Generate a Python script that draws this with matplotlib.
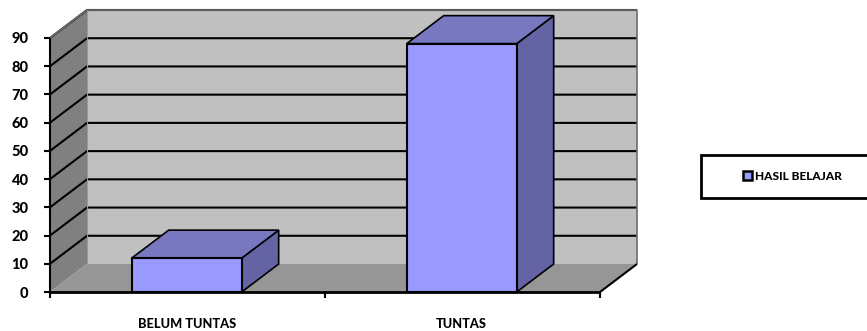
import matplotlib
matplotlib.use('Agg')
import matplotlib.pyplot as plt
from matplotlib.patches import Polygon, Patch, Rectangle

categories = ['BELUM TUNTAS', 'TUNTAS']
values = [12, 88]
series_name = 'HASIL BELAJAR'
yticks = [0, 10, 20, 30, 40, 50, 60, 70, 80, 90]

W, H = 867, 331
plt.rcParams['font.family'] = ['Lato', 'DejaVu Sans']
plt.rcParams['font.weight'] = 900

fig = plt.figure(figsize=(W / 100, H / 100), dpi=100)
ax = fig.add_axes([50 / W, 1 - 292 / H, 550 / W, 254 / H])
ax.set_xlim(0, 2)
ax.set_ylim(0, 90)

# oblique depth offset, in data units
dx = 37 / 275
dy = 28 / (254 / 90)
top = yticks[-1]
n = len(categories)


def poly(pts, fc, ec='none', lw=0, z=1):
    ax.add_patch(Polygon(pts, closed=True, facecolor=fc, edgecolor=ec,
                         linewidth=lw, zorder=z, clip_on=False, joinstyle='miter'))


def line(xs, ys, color='black', lw=1.5, z=2):
    ax.plot(xs, ys, color=color, lw=lw, zorder=z, clip_on=False, solid_capstyle='butt')


# walls and floor
poly([(dx, dy), (n + dx, dy), (n + dx, top + dy), (dx, top + dy)], '#c0c0c0')
poly([(0, 0), (dx, dy), (dx, top + dy), (0, top)], '#808080')
poly([(0, 0), (n, 0), (n + dx, dy), (dx, dy)], '#969696')

# gridlines run along the side wall and across the back wall
for v in yticks[1:]:
    line([0, dx, n + dx], [v, v + dy, v + dy], lw=1.5)
line([0, dx, n + dx, n + dx], [top, top + dy, top + dy, dy], color='#6e6e6e', lw=1.2)
line([dx, dx], [dy, top + dy], color='#9a9a9a', lw=0.8)
line([n, n + dx], [0, dy], lw=1.5)
line([0, n], [0, 0], lw=2, z=6)
line([0, 0], [0, top], lw=1.5, z=6)

# 3d bars
bar_w = 110 / 275
for i, v in enumerate(values):
    x0 = i + 0.5 - bar_w / 2 - 0.003
    x1 = x0 + bar_w
    poly([(x1, 0), (x1 + dx, dy), (x1 + dx, v + dy), (x1, v)], '#6464a4', 'black', 1.2, 4)
    poly([(x0, v), (x1, v), (x1 + dx, v + dy), (x0 + dx, v + dy)], '#7878c0', 'black', 1.2, 4)
    poly([(x0, 0), (x1, 0), (x1, v), (x0, v)], '#9999ff', 'black', 1.5, 5)

for s in ax.spines.values():
    s.set_visible(False)
ax.patch.set_visible(False)

ax.set_yticks(yticks)
ax.tick_params(axis='y', length=4.5, width=1.5, pad=11, labelsize=10.5)
ax.set_xticks(range(n + 1))
ax.set_xticklabels([])
ax.tick_params(axis='x', length=4, width=1.5)
for i, name in enumerate(categories):
    ax.text(i + 0.5 - 0.003, -11.3, name, ha='center', va='center', fontsize=9.2,
            clip_on=False)

# legend box runs off the right edge
fig.add_artist(Rectangle((700.5 / W, 1 - 198 / H), 175 / W, 43 / H, transform=fig.transFigure,
                         facecolor='white', edgecolor='black', linewidth=2))
handle = Patch(facecolor='#9999ff', edgecolor='black', linewidth=1.8)
fig.legend([handle], [series_name], loc='center', bbox_to_anchor=(792 / W, 1 - 176.5 / H),
           frameon=False, fontsize=8.6, handlelength=0.75, handleheight=0.75, handletextpad=0.25)

fig.savefig('out.png', dpi=100)
plt.close()
